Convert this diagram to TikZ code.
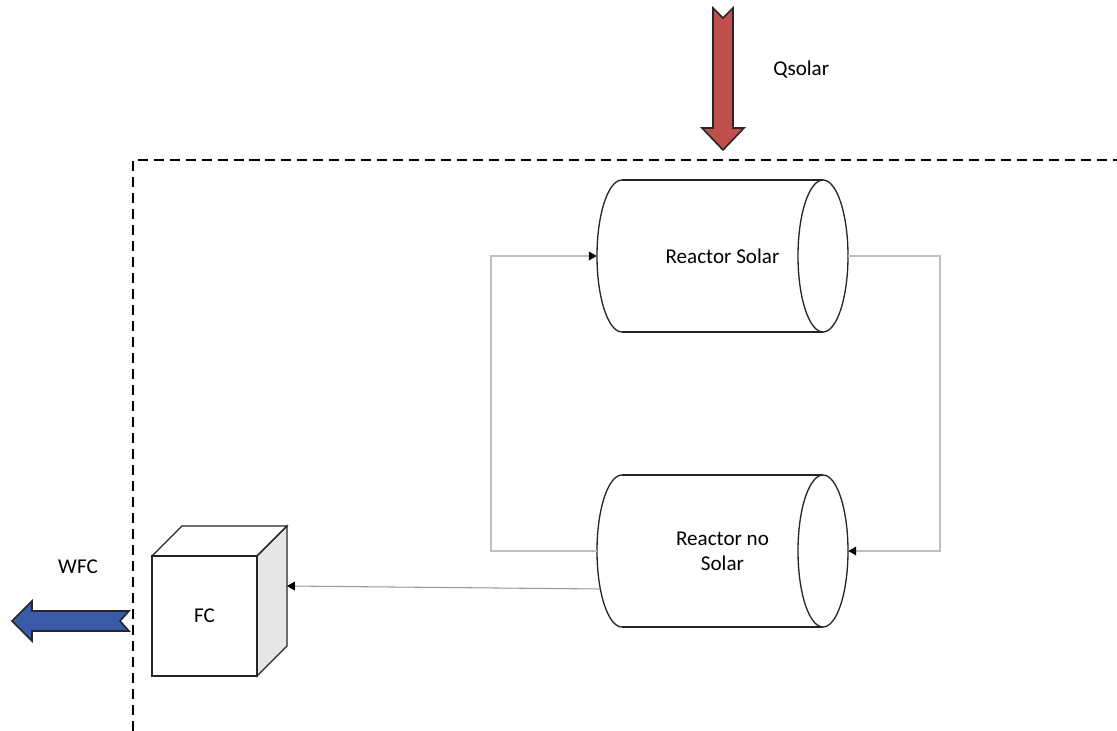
\documentclass[tikz,border=0pt]{standalone}
\usepackage{fontspec}
\setmainfont{Carlito}
\usetikzlibrary{arrows.meta,calc}
\definecolor{solarred}{HTML}{C0504D}
\definecolor{wfcblue}{HTML}{3A5BA8}
\definecolor{sidegray}{HTML}{E6E6E6}
\begin{document}
\begin{tikzpicture}[x=0.02cm,y=0.02cm,
  outline/.style={draw=black!85, line width=0.75pt},
  boundary/.style={draw=black, line width=0.75pt, dash pattern=on 5.7pt off 3.4pt},
  link/.style={draw=black!25, line width=0.6pt, -{Triangle[length=4.5pt,width=5pt,color=black]}},
  fclink/.style={draw=black!40, line width=0.6pt, -{Triangle[length=4.5pt,width=5pt,color=black]}},
  lbl/.style={font=\fontsize{12}{14.2}\selectfont, inner sep=0pt, align=center},
  bigarrow/.style={draw=black!85, line width=0.9pt, line join=miter}]
\useasboundingbox (0,0) rectangle (1117,731);
\fill[white] (0,0) rectangle (1117,731);

% system boundary
\draw[boundary] (133,0) -- (133,571) -- (1117,571);

% solar heat arrow
\filldraw[bigarrow, fill=solarred] (713,723) -- (723,713) -- (733,723) -- (733,603) -- (744,603) -- (723,581) -- (702,603) -- (713,603) -- cycle;
\node[lbl, anchor=west] (qs) at (773,661) {Qsolar};

% reactors
\node[lbl, minimum width=5.02cm, minimum height=3.04cm] (rs) at (722.5,475) {Reactor Solar};
\node[lbl, minimum width=5.02cm, minimum height=3.04cm] (rn) at (722.5,180) {Reactor no\\Solar};
\foreach \cy in {475,180}{
  \draw[outline] (622,\cy+76) -- (823,\cy+76) (622,\cy-76) -- (823,\cy-76);
  \draw[outline] (622,\cy+76) arc[start angle=90,end angle=270,x radius=25,y radius=76];
  \draw[outline] (823,\cy) ellipse[x radius=25,y radius=76];
}

% fuel cell box
\node[lbl, minimum width=2.1cm, minimum height=2.4cm] (fc) at (204.5,115) {FC};
\filldraw[outline, fill=sidegray] (257,175) -- (287,205) -- (287,85) -- (257,55) -- cycle;
\draw[outline] (152,55) rectangle (257,175);
\draw[outline] (152,175) -- (182,205) -- (287,205) -- (257,175);

% connectors
\coordinate (rc) at (940,475);
\coordinate (lc) at (491,180);
\coordinate (fcout) at (600,142);
\coordinate (fcin) at (287,145);
\draw[link] (rs.east) -- (rc) |- (rn.east);
\draw[link] (rn.west) -- (lc) |- (rs.west);
\draw[fclink] (fcout) -- (fcin);

% work output arrow
\filldraw[bigarrow, fill=wfcblue] (12,110) -- (32,130) -- (32,120) -- (129,120) -- (120,110) -- (129,100) -- (32,100) -- (32,90) -- cycle;
\node[lbl] (wfc) at (78,164) {WFC};
\end{tikzpicture}
\end{document}
